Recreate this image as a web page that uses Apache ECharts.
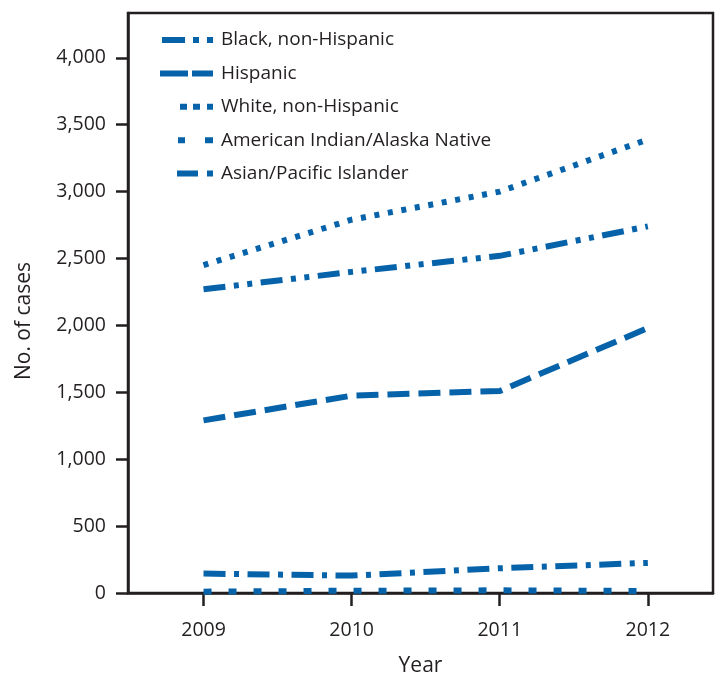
<!DOCTYPE html>
<html>
<head>
<meta charset="utf-8">
<script src="https://cdn.jsdelivr.net/npm/echarts@6/dist/echarts.min.js"></script>
<style>
html,body{margin:0;padding:0;background:#fff;}
#chart{width:726px;height:689px;}
</style>
</head>
<body>
<div id="chart"></div>
<script>
var years = [2009, 2010, 2011, 2012];
var yTicks = [0, 500, 1000, 1500, 2000, 2500, 3000, 3500, 4000];
var seriesNames = ['Black, non-Hispanic', 'Hispanic', 'White, non-Hispanic', 'American Indian/Alaska Native', 'Asian/Pacific Islander'];
var black = [2270, 2400, 2520, 2740];
var hispanic = [1290, 1475, 1510, 1980];
var white = [2450, 2790, 3000, 3390];
var aian = [10, 17, 20, 15];
var asian = [145, 130, 185, 225];

var blue = '#0763a9';
var ink = '#231f20';
var font = 'Open Sans';

var dashes = [
  [22, 8.5, 5, 8.5, 5, 8.5],
  [22, 9],
  [5, 8.7],
  [8, 17],
  [22, 8.5, 5, 8.5]
];
var icons = [
  'path://M0,0M2,0h23v6h-23zM33,0h6v6h-6zM47,0h6v6h-6zM60,6',
  'path://M0,0M0,0h28v6h-28zM32,0h21v6h-21zM60,6',
  'path://M0,0M20,0h7v6h-7zM33,0h7v6h-7zM47,0h6v6h-6zM60,6',
  'path://M0,0M18,0h7v6h-7zM45,0h8v6h-8zM60,6',
  'path://M0,0M17,0h21v6h-21zM47,0h6v6h-6zM60,6'
];
var values = [black, hispanic, white, aian, asian];

function pairs(arr) {
  return years.map(function (y, i) { return [y, arr[i]]; });
}

var series = seriesNames.map(function (name, k) {
  return {
    name: name,
    type: 'line',
    data: pairs(values[k]),
    symbol: 'none',
    clip: false,
    color: blue,
    lineStyle: { color: blue, width: 6, type: dashes[k], cap: 'butt', join: 'miter' },
    z: 3
  };
});

var chart = echarts.init(document.getElementById('chart'), null, { renderer: 'canvas' });
chart.setOption({
  animation: false,
  backgroundColor: '#fff',
  grid: {
    left: 128, right: 13, top: 13, bottom: 96,
    show: true, borderColor: ink, borderWidth: 2.5, backgroundColor: 'transparent'
  },
  legend: {
    orient: 'vertical',
    left: 155,
    top: 25,
    itemWidth: 60,
    itemHeight: 6,
    itemGap: 13.4,
    selectedMode: false,
    symbolKeepAspect: false,
    textStyle: { fontFamily: font, fontSize: 19, color: ink, lineHeight: 20, padding: [0, 0, 0, -4] },
    data: seriesNames.map(function (n, k) {
      return { name: n, icon: icons[k], itemStyle: { color: blue } };
    })
  },
  xAxis: {
    type: 'value',
    min: 2008.49,
    max: 2012.44,
    name: 'Year',
    nameLocation: 'middle',
    nameGap: 63,
    nameTextStyle: { fontFamily: font, fontSize: 21, color: ink },
    axisLine: { show: true, lineStyle: { color: ink, width: 2.5 } },
    axisTick: { show: true, customValues: years, length: 13, lineStyle: { color: ink, width: 2.5 } },
    axisLabel: {
      customValues: years, margin: 27,
      fontFamily: font, fontSize: 19.5, color: ink,
      formatter: function (v) { return String(v); }
    },
    splitLine: { show: false }
  },
  yAxis: {
    type: 'value',
    min: 0,
    max: 4335,
    interval: 500,
    name: 'No. of cases',
    nameLocation: 'middle',
    nameGap: 93,
    nameTextStyle: { fontFamily: font, fontSize: 21, color: ink, padding: [0, 36, 0, 0] },
    axisLine: { show: true, lineStyle: { color: ink, width: 2.5 } },
    axisTick: { show: true, customValues: yTicks, length: 12, lineStyle: { color: ink, width: 2.5 } },
    axisLabel: {
      customValues: yTicks, margin: 22,
      fontFamily: font, fontSize: 19.5, color: ink,
      formatter: function (v) { return v.toLocaleString('en-US'); }
    },
    splitLine: { show: false }
  },
  series: series
});
</script>
</body>
</html>
